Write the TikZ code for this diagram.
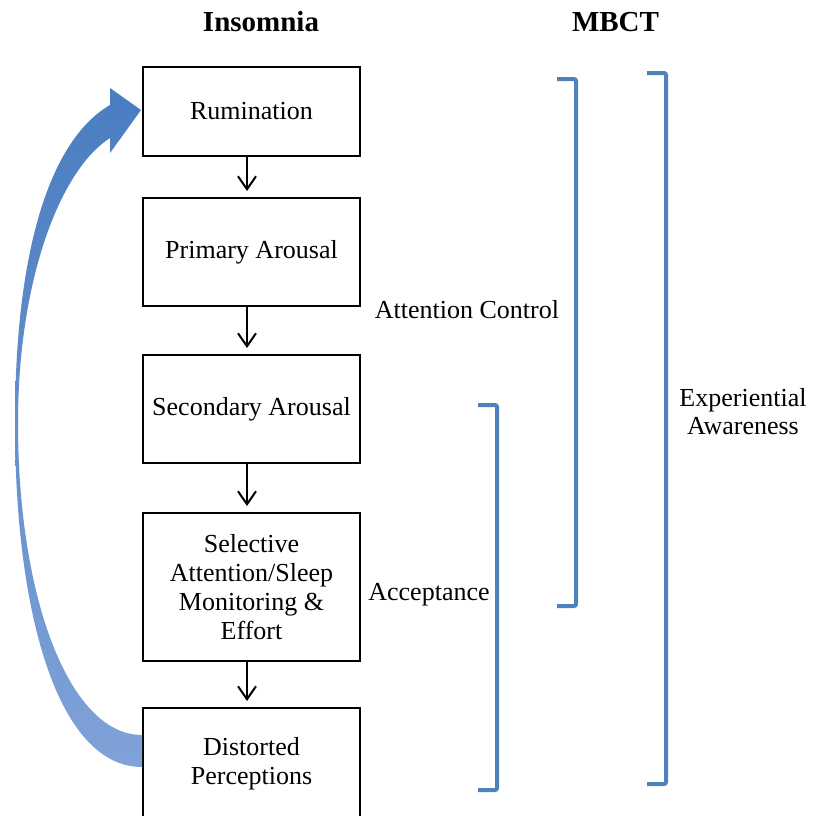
\documentclass[tikz,border=0pt]{standalone}
\usepackage{fontspec}
\setmainfont{Liberation Serif}
\usetikzlibrary{arrows.meta,calc}
\definecolor{brkblue}{HTML}{4F81BD}
\definecolor{arTop}{HTML}{4A7DC0}
\definecolor{arBot}{HTML}{7FA2D8}
\begin{document}
\begin{tikzpicture}[x=0.5pt,y=-0.5pt,
  box/.style={draw=black, line width=1pt, minimum width=108.5pt, align=center, inner sep=0pt,
              font=\fontsize{13}{14.5}\selectfont},
  lbl/.style={inner sep=0pt, align=center, font=\fontsize{13}{14}\selectfont},
  ttl/.style={inner sep=0pt, font=\fontsize{14.5}{16}\selectfont\bfseries},
  arr/.style={-{Straight Barb[length=6.5pt,width=9pt]}, line width=1pt, shorten >=3pt},
  brk/.style={draw=brkblue, line width=2pt, rounded corners=1pt}]
\useasboundingbox[fill=white] (0,0) rectangle (815,816);
% boxes
\node[box, minimum height=44.5pt] (rum) at (251.5,111.5) {Rumination};
\node[box, minimum height=54pt] (pri) at (251.5,252) {Primary Arousal};
\node[box, minimum height=54pt] (sec) at (251.5,409) {Secondary Arousal};
\node[box, minimum height=74pt] (sel) at (251.5,587) {Selective\\Attention/Sleep\\Monitoring \&\\Effort};
\node[box, minimum height=56pt] (dis) at (251.5,764) {Distorted\\Perceptions};
% arrows
\draw[arr] ([xshift=-2.25pt]rum.south) -- ([xshift=-2.25pt]pri.north);
\draw[arr] ([xshift=-2.25pt]pri.south) -- ([xshift=-2.25pt]sec.north);
\draw[arr] ([xshift=-2.25pt]sec.south) -- ([xshift=-2.25pt]sel.north);
\draw[arr] ([xshift=-2.25pt]sel.south) -- ([xshift=-2.25pt]dis.north);
% curved feedback arrow
\shade[top color=arTop, bottom color=arBot]
  ($(dis.west)+(0,3)$) .. controls (60,767) and (15,620) .. (15,423)
  .. controls (15,250) and (50,140) .. (110,105)
  -- (110,88) -- ($(rum.west)+(-1,-1.5)$) -- (110,153) -- (110,138)
  .. controls (60,170) and (18,280) .. (18,423)
  .. controls (18,600) and (70,735) .. ($(dis.west)+(0,-29)$) -- cycle;
% titles
\node[ttl] (ins) at (261,22) {Insomnia};
\node[ttl] (mb) at (615.5,22) {MBCT};
% brackets
\draw[brk] (557,79) -- (576,79) -- (576,606) -- (557,606);
\draw[brk] (478,405) -- (497,405) -- (497,790) -- (478,790);
\draw[brk] (647,73) -- (666,73) -- (666,784) -- (647,784);
% labels
\node[lbl] (att) at (467,310) {Attention Control};
\node[lbl] (acc) at (429,595) {Acceptance};
\node[lbl] (exp) at (743,412) {Experiential\\Awareness};
\end{tikzpicture}
\end{document}
